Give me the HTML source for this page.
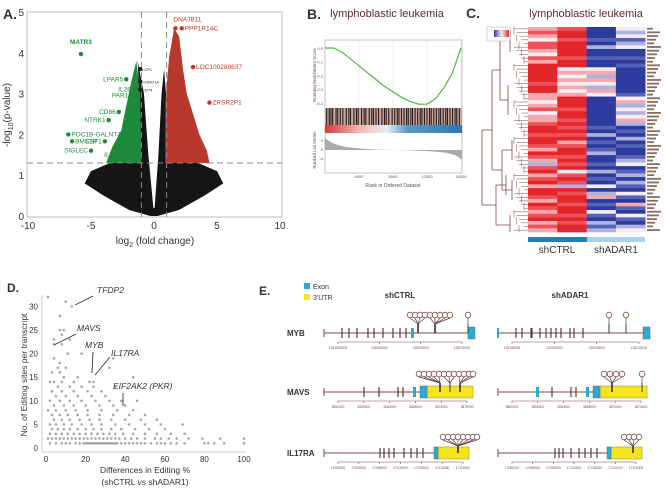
<!DOCTYPE html>
<html><head><meta charset="utf-8">
<style>
html,body{margin:0;padding:0;background:#fff;}
svg{display:block;font-family:"Liberation Sans",Arial,sans-serif;}
</style></head>
<body>
<svg id="fig" width="668" height="489" viewBox="0 0 668 489" xmlns="http://www.w3.org/2000/svg">
  <g id="pA"></g>
  <g id="pB"></g>
  <g id="pC"></g>
  <g id="pD"></g>
  <g id="pE"></g>
</svg>
<script>
// ---------- Panel A data ----------
const volGeneNames = ["DNAJB11","PPP1R14C","LOC100288637","ZRSR2P1","MATR3","LPAR5","IL26","PAR1","CD86","NTRK1","POC1B-GALNT4","CSF1","BMS1P","SIGLEC","IL3","LCP1","CORO1A","CD74"];
const volGeneFC = [1.7,2.2,3.1,4.4,-5.8,-2.2,-1.6,-1.8,-2.8,-3.6,-6.8,-3.9,-6.5,-5.0,-3.0,-1.1,-1.1,-1.1];
const volGeneP = [4.6,4.6,3.65,2.78,3.97,3.35,3.1,2.95,2.55,2.35,2.0,1.83,1.83,1.6,1.5,3.6,3.3,3.1];
const volGeneGroup = ["up","up","up","up","down","down","down","down","down","down","down","down","down","down","down","ns","ns","ns"];
const volXTicks = [-10,-5,0,5,10];
const volYTicks = [0,1,2,3,4,5];
// ---------- Panel B data ----------
const esRanks = [0,1000,2000,3000,4000,5000,6000,7000,8000,9000,10000,11000,12000,13000,14000,15000,16000];
const esValues = [0,0,-0.03,-0.08,-0.13,-0.18,-0.23,-0.28,-0.32,-0.36,-0.39,-0.41,-0.41,-0.37,-0.29,-0.18,0.0];
const hitRanks = [200,500,700,900,1300,1500,1800,2100,2500,2800,3000,3400,3700,3900,4300,4600,4800,5200,5500,5700,6000,6300,6700,7000,7200,7500,7900,8200,8500,8700,9000,9300,9600,9800,10100,10300,10600,10900,11200,11400,11700,12000,12300,12500,12800,13100,13400,13600,13900,14200,14400,14700,15000,15300,15500,15800];
const esYTicks = [0.0,-0.1,-0.2,-0.3,-0.4];
const rankTicks = [4000,8000,12000,16000];
// ---------- Panel C data ----------
const hmCol1 = [1,2,1,0,2,2,1,0,2,1,3, 3,3,3,3,2,3,3,1, 1,0,1,2,0,1,1,2, 3,3,2,3,3,2,1,3,2, 1,-1,2,3,1,2,3,1, 3,3,2,1,3,2,1,2,3,1,2,1];
const hmCol2 = [2,3,3,2,3,3,3,3,2,3,3, 0,1,0,1,0,1,0,1, 3,3,3,2,3,3,2,3, 2,3,2,3,1,2,3,3,2, 3,2,3,0,2,3,2,-1, 3,2,3,3,2,3,3,2,3,2,3,3];
const hmCol3 = [-3,-3,-3,-2,-3,-1,-3,-3,-2,-3,-3, 0,1,-1,1,0,-1,1,0, -3,-3,-3,-3,-3,-3,-3,-3, -2,-3,-1,-3,-2,-3,-2,-1,-3, -3,-2,-3,-1,-3,-2,-3,0, -3,-1,1,-3,-2,-3,0,-2,-3,-1,-2,-1];
const hmCol4 = [0,-1,0,-2,-1,0,-3,-3,-2,-3,-2, -3,-3,-3,-3,-3,-3,-3,-2, 0,1,-1,0,-1,0,1,-1, -3,-2,-3,-1,-3,-2,-3,-3,-2, -1,0,-3,-2,-1,-3,-1,-2, -3,0,-2,-3,1,-2,-3,0,-2,-3,-1,0];
const hmGroups = ["shCTRL","shADAR1"];
// ---------- Panel D data ----------
const siteLevels = [1,2,3,4,5,6,7,8,9,10,11,12,13,14,15,16,17,18,19,20,22,23,24,25,28,30,31,32];
const diffsAtLevel = [
 [2,5,8,10,12,15,17,19,20,21,22,23,24,25,26,27,28,29,30,31,32,33,34,35,36,38,40,42,44,46,48,50,53,56,58,60,63,66,70,80,82,85,90,100],
 [1,3,5,7,9,11,13,15,17,19,21,23,25,27,29,31,33,35,37,40,43,46,50,55,58,62,66,72,79,88,100],
 [2,5,8,11,14,17,20,23,26,29,32,35,39,44,50,56,63,70],
 [3,6,9,12,16,20,24,28,33,38,45,52,60],
 [2,5,9,13,18,23,28,35,42,50,58,69],
 [4,8,12,17,22,27,33,40,48,56],
 [3,7,11,16,21,27,34,42,50],
 [1,5,10,15,21,28,36,44],
 [4,9,14,20,27,34,40],
 [2,7,12,18,25,32,38,46],
 [5,10,16,23,30],
 [3,8,14,21,28],
 [6,12,18,24,35],
 [2,4,8,14,22,24],
 [9,16,44],
 [3,7],
 [6,10,32],
 [7],
 [4,34],
 [11,18],
 [4,8],
 [4,12],
 [8],
 [7,9],
 [7],
 [13],
 [10],
 [1]
];
const dXTicks = [0,20,40,60,80,100];
const dYTicks = [0,5,10,15,20,25,30];
</script>
<script>
const NS="http://www.w3.org/2000/svg";
function mk(parent,tag,attrs,text){const e=document.createElementNS(NS,tag);for(const k in attrs)e.setAttribute(k,attrs[k]);if(text!==undefined)e.textContent=text;parent.appendChild(e);return e;}
let el;

// ================= PANEL A =================
const A=document.getElementById('pA');
const ax=v=>154+v*12.6, ay=v=>216-v*40.8;
el=mk(A,'text',{x:3,y:19,'font-size':14,'font-weight':'bold',fill:'#333'},'A.');


el=mk(A,'rect',{x:27,y:12,width:255,height:205,fill:'none',stroke:'#bbb','stroke-width':1});


const blackPts=[[-1.3,3.8],[-1.1,2.5],[-1.2,1.3],[-3.5,1.3],[-5,1.1],[-5.5,0.8],[-4,0.5],[-2,0.15],[-0.3,0],[0.3,0],[2,0.15],[4,0.5],[5.5,0.8],[5,1.1],[3.5,1.3],[1,1.3],[1,2.8],[0.8,3.6],[0.6,3],[0.35,1.5],[0.05,0.2],[-0.05,0.2],[-0.45,1.5],[-0.8,3]];
el=mk(A,'polygon',{points:blackPts.map(p=>ax(p[0])+','+ay(p[1])).join(' '),fill:'#151515'});


const greenPts=[[-1,1.3],[-3.8,1.3],[-3.3,1.7],[-2.6,2.1],[-2.2,2.7],[-1.8,3.3],[-1.4,3.8],[-1.1,3.0],[-1.05,2]];
el=mk(A,'polygon',{points:greenPts.map(p=>ax(p[0])+','+ay(p[1])).join(' '),fill:'#1e8a3c'});


const redPts=[[0.9,1.3],[0.9,2.8],[1.2,3.9],[1.6,4.6],[2.0,4.4],[2.3,3.6],[2.6,3.0],[3,2.6],[3.6,2.0],[4.2,1.6],[4.4,1.3]];
el=mk(A,'polygon',{points:redPts.map(p=>ax(p[0])+','+ay(p[1])).join(' '),fill:'#b8392c'});


el=mk(A,'line',{x1:27,x2:282,y1:ay(1.3),y2:ay(1.3),stroke:'#888','stroke-dasharray':'6,4'});


[-1,1].forEach(v=>{el=mk(A,'line',{x1:ax(v),x2:ax(v),y1:12,y2:217,stroke:'#888','stroke-dasharray':'6,4'});

});
volXTicks.forEach(t=>{el=mk(A,'text',{x:ax(t),y:229,'font-size':10,'text-anchor':'middle',fill:'#333'},String(t));

});
volYTicks.forEach(t=>{el=mk(A,'text',{x:24,y:ay(t)+4,'font-size':10,'text-anchor':'end',fill:'#333'},String(t));

});
el=mk(A,'text',{x:155,y:244,'font-size':10,'text-anchor':'middle',fill:'#333'});
el.innerHTML='log<tspan font-size="7" dy="3">2</tspan><tspan dy="-3"> (fold change)</tspan>';


el=mk(A,'text',{x:0,y:0,'font-size':10,'text-anchor':'middle',fill:'#333',transform:'translate(10,115) rotate(-90)'});
el.innerHTML='-log<tspan font-size="7" dy="3">10</tspan><tspan dy="-3">(p-value)</tspan>';


volGeneNames.forEach((n,i)=>{
  const g=volGeneGroup[i], c=g==='up'?'#c0392b':g==='down'?'#1e8a3c':'#222';
  const px=ax(volGeneFC[i]), py=ay(volGeneP[i]);
  el=mk(A,'circle',{cx:px,cy:py,r:2.2,fill:c});
  
  
  let tx,anchor='start',fs=g==='ns'?4:6.5,dy=2;
  if(g==='up'){tx=px+3; if(n==='DNAJB11'){tx=px-2;dy=-7;}}
  else if(g==='ns'){tx=px+2;}
  else {tx=px-3;anchor='end'; if(n==='MATR3'){tx=px;anchor='middle';dy=-10;} if(n==='POC1B-GALNT4'||n==='BMS1P'){tx=px+3;anchor='start';}}
  el=mk(A,'text',{x:tx,y:py+dy,'font-size':fs,'text-anchor':anchor,fill:c,'font-weight':n==='MATR3'?'bold':'normal'},n);
  
  
});

// ================= PANEL B =================
const B=document.getElementById('pB');
const bx=r=>325+r/16000*136, by=v=>48+(-v)*137;
el=mk(B,'text',{x:307,y:19,'font-size':14,'font-weight':'bold',fill:'#333'},'B.');


el=mk(B,'text',{x:387,y:17,'font-size':11,'text-anchor':'middle',fill:'#5a2a2a'},'lymphoblastic leukemia');


el=mk(B,'rect',{x:325,y:40,width:137,height:133,fill:'#fff',stroke:'#aaa','stroke-width':0.7});


rankTicks.forEach(t=>{el=mk(B,'line',{x1:bx(t),x2:bx(t),y1:40,y2:107,stroke:'#e4e4ee','stroke-width':0.6});

});
el=mk(B,'polyline',{points:esRanks.map((r,i)=>bx(r)+','+by(esValues[i])).join(' '),fill:'none',stroke:'#4cbb3c','stroke-width':1.2});


esYTicks.forEach(t=>{el=mk(B,'text',{x:323,y:by(t)+2,'font-size':4,'text-anchor':'end',fill:'#555'},t.toFixed(1));

});
el=mk(B,'rect',{x:325,y:108,width:137,height:17,fill:'#c9a8a0'});


hitRanks.forEach(r=>{el=mk(B,'line',{x1:bx(r),x2:bx(r),y1:108,y2:125,stroke:'#2a1a1a','stroke-width':1.1});

});
const cbar=mk(B,'defs',{});
cbar.innerHTML='<linearGradient id="gb" x1="0" x2="1"><stop offset="0" stop-color="#d9383a"/><stop offset="0.25" stop-color="#f0b8b0"/><stop offset="0.45" stop-color="#e8eef5"/><stop offset="0.6" stop-color="#5a9ac8"/><stop offset="1" stop-color="#2a78b8"/></linearGradient>';
el=mk(B,'rect',{x:325,y:125,width:137,height:8,fill:'url(#gb)'});


el=mk(B,'path',{d:'M325,138 C335,146 345,149 393,150 C440,151 455,152 462,160 L462,150 L325,150 Z',fill:'#aaa'});


['4','0','-4'].forEach((t,i)=>{el=mk(B,'text',{x:323,y:142+i*9,'font-size':4,'text-anchor':'end',fill:'#555'},t);

});
rankTicks.forEach(t=>{el=mk(B,'text',{x:bx(t),y:178,'font-size':4,'text-anchor':'middle',fill:'#555'},String(t));

});
el=mk(B,'text',{x:393,y:187,'font-size':5,'text-anchor':'middle',fill:'#555'},'Rank in Ordered Dataset');


el=mk(B,'text',{x:0,y:0,'font-size':4.5,'text-anchor':'middle',fill:'#7a4a42',transform:'translate(316,75) rotate(-90)'},'Running Enrichment Score');


el=mk(B,'text',{x:0,y:0,'font-size':4.5,'text-anchor':'middle',fill:'#7a4a42',transform:'translate(316,150) rotate(-90)'},'Ranked List Metric');



// ================= PANEL C =================
const C=document.getElementById('pC');
el=mk(C,'text',{x:466,y:18,'font-size':14,'font-weight':'bold',fill:'#333'},'C.');


el=mk(C,'text',{x:586,y:17,'font-size':11,'text-anchor':'middle',fill:'#5a2a2a'},'lymphoblastic leukemia');


const hmColor=v=>({3:'#e3262c',2:'#ec5257',1:'#f4a9ae',0:'#f3ecf3','-1':'#aeb2dc','-2':'#5661b8','-3':'#2e3b9e'})[v];
const cols=[hmCol1,hmCol2,hmCol3,hmCol4];
const hx0=528,hcw=29.3,hy0=27,hh=205;
cols.forEach((col,ci)=>{const rh=hh/col.length;col.forEach((v,ri)=>{
  el=mk(C,'rect',{x:hx0+ci*hcw,y:hy0+ri*rh,width:hcw+0.3,height:rh+0.3,fill:hmColor(v)});
  
  
});});
const dg=mk(C,'g',{stroke:'#7a4a42','stroke-width':0.8,fill:'none'});


mk(dg,'path',{d:'M482,130 L482,205 M482,130 L492,130 M482,205 L496,205 M492,70 L492,170 M492,70 L500,70 M492,170 L502,170 M500,40 L500,100 M500,40 L510,40 M500,100 L508,100 M502,150 L502,190 M502,150 L512,150 M502,190 L512,190 M496,185 L496,225 M496,185 L506,185 M496,225 L510,225 M510,30 L510,52 M508,85 L508,115 M512,140 L512,160 M512,180 L512,200 M506,175 L506,195 M510,215 L510,232'});
for(let i=0;i<56;i++){const y=hy0+(i+0.5)*hh/56;mk(dg,'line',{x1:514+(i%5)*2.5,x2:528,y1:y,y2:y,'stroke-width':0.5});}
for(let i=0;i<28;i++){const y=hy0+(i*2+1)*hh/56;mk(dg,'line',{x1:514+(i%5)*2.5,x2:514+(i%5)*2.5,y1:y-hh/56,y2:y+hh/56,'stroke-width':0.5});}
for(let i=0;i<56;i++){el=mk(C,'rect',{x:647,y:hy0+i*hh/56+0.8,width:6+(i*7%9),height:1.8,fill:'#8a6a62'});

}
el=mk(C,'rect',{x:487,y:27,width:23,height:14,fill:'#fff',stroke:'#999','stroke-width':0.4});


const kd=mk(C,'defs',{});kd.innerHTML='<linearGradient id="gk" x1="0" x2="1"><stop offset="0" stop-color="#2e3b9e"/><stop offset="0.5" stop-color="#f3ecf3"/><stop offset="1" stop-color="#e3262c"/></linearGradient>';
mk(C,'rect',{x:494,y:30,width:15,height:7,fill:'url(#gk)'});
el=mk(C,'rect',{x:528,y:237,width:59,height:5,fill:'#2a7ab8'});


el=mk(C,'rect',{x:587,y:237,width:58,height:5,fill:'#a9d0ee'});


hmGroups.forEach((g,i)=>{el=mk(C,'text',{x:557+i*59,y:253,'font-size':10,'text-anchor':'middle',fill:'#333'},g);

});

// ================= PANEL D =================
const D=document.getElementById('pD');
const dx=v=>46+v*1.98, dy=v=>448-v*4.72;
el=mk(D,'text',{x:7,y:292,'font-size':12,'font-weight':'bold',fill:'#333'},'D.');


el=mk(D,'polyline',{points:'42,295 42,452 246,452',fill:'none',stroke:'#bbb','stroke-width':0.8});


dXTicks.forEach(t=>{el=mk(D,'text',{x:dx(t),y:462,'font-size':8,'text-anchor':'middle',fill:'#333'},String(t));

});
dYTicks.forEach(t=>{el=mk(D,'text',{x:38,y:dy(t)+3,'font-size':8,'text-anchor':'end',fill:'#333'},String(t));

});
siteLevels.forEach((lv,i)=>{diffsAtLevel[i].forEach(d=>{
  el=mk(D,'circle',{cx:dx(d),cy:dy(lv),r:1.3,fill:'#8a8a8a','fill-opacity':0.75});
  
  
});});
el=mk(D,'text',{x:145,y:473,'font-size':8.5,'text-anchor':'middle',fill:'#333'},'Differences in Editing %');


el=mk(D,'text',{x:145,y:485,'font-size':8.5,'text-anchor':'middle',fill:'#333'});
el.innerHTML='(shCTRL <tspan font-style="italic">vs</tspan> shADAR1)';


el=mk(D,'text',{x:0,y:0,'font-size':8.5,'text-anchor':'middle',fill:'#333',transform:'translate(27,375) rotate(-90)'},'No. of Editing sites per transcript');


const ann=[['TFDP2',97,293,'75,305 93,296'],['MAVS',77,331,'54,345 76,334'],['MYB',85,348,'93,352 92,373'],['IL17RA',111,356,'110,357 95,375'],['EIF2AK2 (PKR)',113,389,'123,393 123,406']];
ann.forEach(a=>{el=mk(D,'text',{x:a[1],y:a[2],'font-size':8.5,'font-style':'italic',fill:'#333'},a[0]);


el=mk(D,'polyline',{points:a[3],stroke:'#333','stroke-width':0.9,fill:'none'});

});

// ================= PANEL E =================
const E=document.getElementById('pE');
el=mk(E,'text',{x:259,y:295,'font-size':12,'font-weight':'bold',fill:'#333'},'E.');


el=mk(E,'rect',{x:304,y:283,width:6,height:6,fill:'#2ea9d6'});


el=mk(E,'text',{x:313,y:289,'font-size':7,fill:'#333'},'Exon');


el=mk(E,'rect',{x:304,y:294,width:6,height:6,fill:'#f5e61c'});


el=mk(E,'text',{x:313,y:300,'font-size':7,fill:'#333'},"3'UTR");


[['shCTRL',400],['shADAR1',570]].forEach(t=>{el=mk(E,'text',{x:t[1],y:298,'font-size':8,'font-weight':'bold','text-anchor':'middle',fill:'#333'},t[0]);

});
const tracks=[
 {g:'MYB',y:333,x0:324,x1:468,box:[468,475,'#2ea9d6'],blue:[[411,413]],ex:[342,349,357,368,374,383,393,400,406,413],lolly:[[418,[410,415,420,425]],[435,[430,435,440,445,450]],[468,[468]]],cy:315,ticks:['1351850000','135190000','135200000','135215000']},
 {g:'MYB',y:333,x0:498,x1:645,box:[643,650,'#2ea9d6'],blue:[[497,499]],ex:[516,522,531,532,540,546,551,556,561,570,574,583],lolly:[[609,[609]],[626,[626]]],cy:315,ticks:['135185000','135195000','135205000','135215000']},
 {g:'MAVS',y:392,x0:324,x1:473,box:[420,427,'#2ea9d6'],utr:[427,473],blue:[[413,416]],ex:[364,379,398,403],lolly:[[440,[419,424,429,434,439]],[450,[444,449,454]],[460,[459,464,469,473]]],cy:374,ticks:['3850000','3855000','3860000','3865000','3870000','3875000']},
 {g:'MAVS',y:392,x0:498,x1:647,box:[593,600,'#2ea9d6'],utr:[600,647],blue:[[536,539],[586,589]],ex:[552,571,576],lolly:[[612,[604,610,616,622]],[642,[642]]],cy:374,ticks:['3850000','3855000','3860000','3865000','3870000','3875000']},
 {g:'IL17RA',y:453,x0:324,x1:469,box:[434,438,'#2ea9d6'],utr:[438,469],blue:[],ex:[380,384,389,394,404,411,417,423],lolly:[[458,[443,448,453,458,463,468,473,477]]],cy:437,ticks:['17085000','17090000','17095000','17100000','17105000','17110000','17115000']},
 {g:'IL17RA',y:453,x0:498,x1:642,box:[607,611,'#2ea9d6'],utr:[611,642],blue:[],ex:[555,559,563,571,579,585,591,597],lolly:[[633,[624,629,634,639]]],cy:437,ticks:['17085000','17090000','17095000','17100000','17105000','17110000','17115000']}
];
tracks.forEach((t,ti)=>{
  const g=mk(E,'g',{});
  
  
  if(ti%2===0){el=mk(E,'text',{x:287,y:t.y+3,'font-size':8,'font-weight':'bold',fill:'#333'},t.g);
  
  }
  mk(g,'line',{x1:t.x0,x2:t.x1,y1:t.y,y2:t.y,stroke:'#7a4a42','stroke-width':1});
  mk(g,'line',{x1:t.x0,x2:t.x0,y1:t.y-4,y2:t.y+4,stroke:'#7a4a42','stroke-width':1});
  if(t.utr)mk(g,'rect',{x:t.utr[0],y:t.y-6,width:t.utr[1]-t.utr[0],height:12,fill:'#f5e61c',stroke:'#9a7a5a','stroke-width':0.5});
  mk(g,'rect',{x:t.box[0],y:t.y-6,width:t.box[1]-t.box[0],height:12,fill:t.box[2],stroke:'#555','stroke-width':0.4});
  t.ex.forEach(x=>mk(g,'line',{x1:x,x2:x,y1:t.y-5,y2:t.y+5,stroke:'#5a3a3a','stroke-width':1.2}));
  t.blue.forEach(b=>mk(g,'rect',{x:b[0],y:t.y-5,width:b[1]-b[0],height:10,fill:'#2ea9d6'}));
  const ax0=t.x0+14, ax1=t.x1-6;
  mk(g,'line',{x1:ax0,x2:ax1,y1:t.y+9,y2:t.y+9,stroke:'#7a4a42','stroke-width':0.6});
  t.ticks.forEach((lab,k)=>{const x=ax0+(ax1-ax0)*k/(t.ticks.length-1);
    mk(g,'line',{x1:x,x2:x,y1:t.y+9,y2:t.y+11,stroke:'#7a4a42','stroke-width':0.6});
    mk(g,'text',{x:x,y:t.y+16,'font-size':3.3,'text-anchor':'middle',fill:'#7a4a42'},lab);});
  t.lolly.forEach(L=>{const base=L[0];L[1].forEach(cx=>{
    mk(g,'polyline',{points:base+','+t.y+' '+base+','+(t.cy+9)+' '+cx+','+(t.cy+3),fill:'none',stroke:'#5a3a3a','stroke-width':0.7});
    el=mk(g,'circle',{cx:cx,cy:t.cy,r:2.8,fill:'#fff',stroke:'#7a4a42','stroke-width':0.8});
    
    
  });
  mk(g,'line',{x1:base,x2:base,y1:t.y,y2:t.cy+9,stroke:'#3a2a2a','stroke-width':L[1].length>3?1.6:0.8});});
});
</script>
</body></html>
